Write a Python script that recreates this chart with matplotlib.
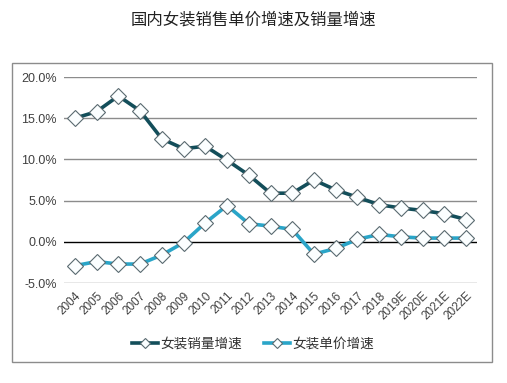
import numpy as np
import matplotlib.pyplot as plt
from matplotlib.patches import Rectangle

plt.rcParams['font.family'] = ['Liberation Sans', 'Noto Sans CJK SC', 'DejaVu Sans']

# datos
years = ["2004", "2005", "2006", "2007", "2008", "2009", "2010", "2011", "2012",
         "2013", "2014", "2015", "2016", "2017", "2018", "2019E", "2020E", "2021E", "2022E"]
volume = [15.0, 15.8, 17.7, 15.9, 12.5, 11.3, 11.6, 9.9, 8.1,
          5.9, 5.9, 7.5, 6.3, 5.4, 4.5, 4.1, 3.8, 3.4, 2.7]
price = [-2.9, -2.4, -2.7, -2.7, -1.6, -0.1, 2.3, 4.4, 2.2,
         1.9, 1.5, -1.5, -0.8, 0.3, 0.9, 0.6, 0.45, 0.45, 0.45]
yticks = [-5, 0, 5, 10, 15, 20]

fig = plt.figure(figsize=(5.07, 3.83), dpi=100)
ax = fig.add_axes([64 / 507, 1 - 283 / 383, (477 - 64) / 507, (283 - 77) / 383])

# marco exterior
fig.patches.append(Rectangle((12 / 507, 1 - 362 / 383), 480 / 507, 299 / 383,
                             transform=fig.transFigure, fill=False,
                             edgecolor="#8c8c8c", linewidth=1))

x = np.arange(len(years))
mk = dict(marker="D", markersize=8.5, markerfacecolor="#fbfeff",
          markeredgecolor="#5a6a70", markeredgewidth=0.8)
ax.plot(x, volume, color="#134e5a", linewidth=2.6, label="女装销量增速", zorder=3, **mk)
ax.plot(x, price, color="#2aa5c8", linewidth=2.6, label="女装单价增速", zorder=3, **mk)

for t in yticks:
    ax.axhline(t, color="black" if t == 0 else "#8c8c8c", linewidth=1, zorder=1)

ax.set_xlim(-0.5, len(years) - 0.5)
ax.set_ylim(-5, 20)
ax.set_yticks(yticks)
ax.set_yticklabels([f"{v:.1f}%" for v in yticks], fontsize=9, color="#404040")
ax.set_xticks(x)
ax.set_xticklabels(years, rotation=45, ha="right", rotation_mode="anchor",
                   fontsize=8.5, color="#404040")
ax.tick_params(length=0, pad=5)
for s in ax.spines.values():
    s.set_visible(False)

fig.text(253 / 507, 1 - 20 / 383, "国内女装销售单价增速及销量增速", ha="center", va="center",
         fontsize=11.8, color="#222222")

fig.legend(loc="center", bbox_to_anchor=(253 / 507, 1 - 344 / 383), ncol=2,
           frameon=False, fontsize=9.8, handlelength=1.9, columnspacing=1.6,
           handletextpad=0.2, markerscale=0.6, labelcolor="#333333")

fig.savefig("out.png", dpi=100)
